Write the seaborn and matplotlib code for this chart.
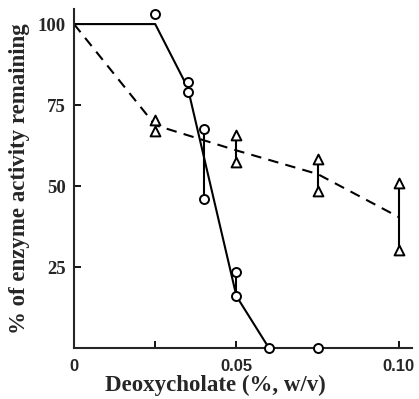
import matplotlib
matplotlib.use("Agg")
import matplotlib.pyplot as plt
import seaborn as sns
import pandas as pd

# ---- data ----
solid_x = [0.0, 0.025, 0.035, 0.05, 0.06]
solid_y = [100, 100, 80.4, 16, 0]
circle_x = [0.025, 0.035, 0.035, 0.04, 0.04, 0.05, 0.05, 0.06, 0.075]
circle_y = [103, 82, 79, 67.5, 46, 23.5, 16, 0, 0]
dashed_x = [0.0, 0.025, 0.05, 0.075, 0.10]
dashed_y = [100, 68.8, 61, 53.7, 40.4]
tri_x = [0.025, 0.025, 0.05, 0.05, 0.075, 0.075, 0.10, 0.10]
tri_y = [70.4, 67, 65.7, 57.4, 58.3, 48.5, 51, 30.2]
range_x = [0.04, 0.05, 0.05, 0.075, 0.10]
range_lo = [46, 16, 57.4, 48.5, 30.2]
range_hi = [67.5, 23.5, 65.7, 58.3, 51]
xtick_vals = [0, 0.025, 0.05, 0.10]
xtick_labels = ["0", "", "0.05", "0.10"]
ytick_vals = [25, 50, 75, 100]
ytick_labels = ["25", "50", "75", "100"]

sns.set_style("ticks")
fig = plt.figure(figsize=(4.19, 3.99), dpi=100)
ax = fig.add_axes([0.1766, 0.1278, 0.983 - 0.1766, 0.977 - 0.1278])

solid_df = pd.DataFrame({"x": solid_x, "y": solid_y})
dashed_df = pd.DataFrame({"x": dashed_x, "y": dashed_y})
circ_df = pd.DataFrame({"x": circle_x, "y": circle_y})
tri_df = pd.DataFrame({"x": tri_x, "y": tri_y})

sns.lineplot(data=solid_df, x="x", y="y", ax=ax, color="black", lw=1.5,
             sort=False, estimator=None, zorder=2)
sns.lineplot(data=dashed_df, x="x", y="y", ax=ax, color="black", lw=1.5,
             sort=False, estimator=None, zorder=2)
ax.lines[-1].set_linestyle((0, (5, 3.5)))
ax.vlines(range_x, range_lo, range_hi, colors="black", lw=1.5, zorder=2)

sns.scatterplot(data=circ_df, x="x", y="y", ax=ax, marker="o", s=42,
                facecolor="white", edgecolor="black", linewidth=1.4, zorder=4,
                clip_on=False)
sns.scatterplot(data=tri_df, x="x", y="y", ax=ax, marker="^", s=50,
                facecolor="white", edgecolor="black", linewidth=1.4, zorder=4,
                clip_on=False)

ax.set_xlim(0, 0.104)
ax.set_ylim(0, 104.6)
sns.despine(ax=ax)
for s in ["left", "bottom"]:
    ax.spines[s].set_linewidth(1.5)

ax.set_xticks(xtick_vals)
ax.set_xticklabels(xtick_labels, fontfamily="Liberation Sans",
                   fontweight="bold", fontsize=12)
ax.set_yticks(ytick_vals)
ax.set_yticklabels(ytick_labels, fontfamily="Liberation Serif",
                   fontweight="bold", fontsize=13.5)
ax.tick_params(axis="both", direction="in", length=5, width=1.3, color="black")
ax.tick_params(axis="y", pad=6)
ax.tick_params(axis="x", pad=8)

ax.set_xlabel("Deoxycholate (%, w/v)", fontfamily="Liberation Serif",
              fontweight="bold", fontsize=16.5)
ax.set_ylabel("% of enzyme activity remaining", fontfamily="Liberation Serif",
              fontweight="bold", fontsize=16.5)
ax.xaxis.set_label_coords(0.417, -0.08)
ax.yaxis.set_label_coords(-0.13, 0.5)

fig.savefig("out.png", dpi=100)
